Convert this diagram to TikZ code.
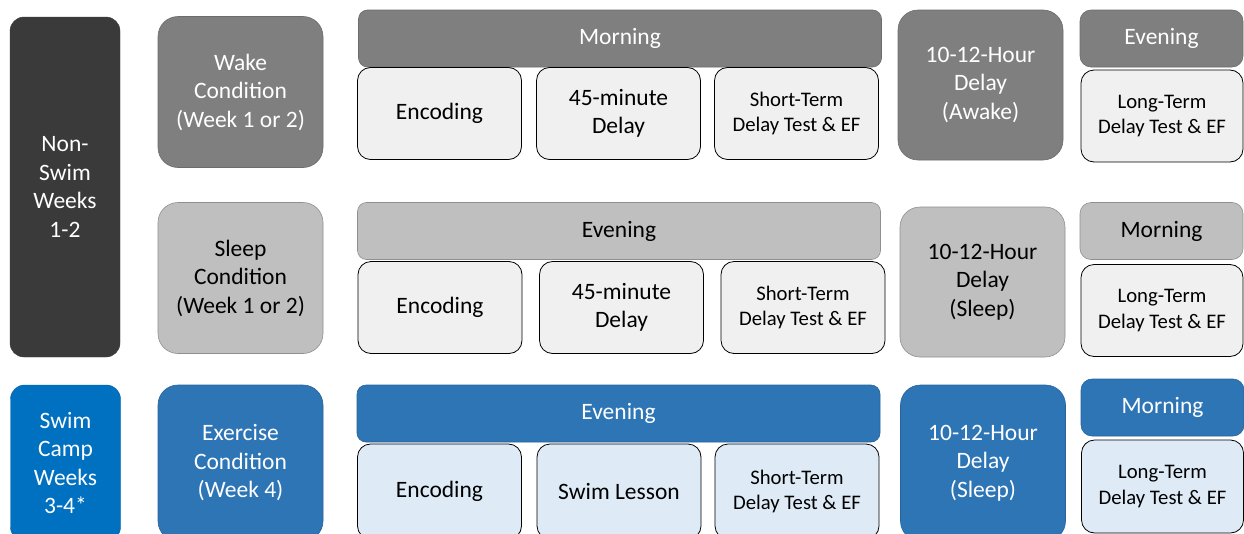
\documentclass[tikz,border=0pt]{standalone}
\usepackage{fontspec}
\setmainfont{Carlito}

\definecolor{darkgray}{HTML}{3A3A3A}
\definecolor{midgray}{HTML}{7F7F7F}
\definecolor{lightgray}{HTML}{BFBFBF}
\definecolor{palegray}{HTML}{F0F0F0}
\definecolor{swimblue}{HTML}{0070C0}
\definecolor{midblue}{HTML}{2E75B6}
\definecolor{paleblue}{HTML}{DEEBF7}

\begin{document}
\begin{tikzpicture}[x=1pt, y=-1pt]

    % --- Styles ---
    \tikzset{
        % Basis-Stil
        component/.style={
            rectangle,
            inner sep=0pt,
            align=center,
            font=\fontsize{23.5}{28.5}\selectfont
        },
        solid gray/.style={component, fill=midgray, draw=midgray!85!black, line width=0.6pt, text=white},
        solid light/.style={component, fill=lightgray, draw=lightgray!75!black, line width=0.6pt, text=black},
        solid blue/.style={component, fill=midblue, draw=midblue!85!black, line width=0.6pt, text=white},
        pale gray/.style={component, fill=palegray, draw=black, line width=0.8pt, text=black},
        pale blue/.style={component, fill=paleblue, draw=black, line width=0.8pt, text=black},
        % Groessen
        weekbox/.style={minimum width=110, rounded corners=14pt},
        condbox/.style={minimum width=165, minimum height=151, rounded corners=20pt},
        barbox/.style={minimum width=523, minimum height=57, rounded corners=9pt},
        stepbox/.style={minimum width=164, minimum height=92, rounded corners=13pt},
        delaybox/.style={minimum width=165, minimum height=150, rounded corners=20pt},
        timebox/.style={minimum width=163, minimum height=57, rounded corners=11pt},
        testbox/.style={minimum width=162, minimum height=92, rounded corners=13pt},
        smalltext/.style={font=\fontsize{20.7}{25.5}\selectfont}
    }

    \clip (0,0) rectangle (1244,533);
    \useasboundingbox (0,0) rectangle (1244,533);

    % --- Wochen ---
    \node[component, weekbox, minimum height=340, fill=darkgray, draw=darkgray, text=white]
        (nonswim) at (65,187) {Non-\\Swim\\Weeks\\1-2};
    \node[component, weekbox, minimum height=156, fill=swimblue, draw=swimblue!85!black, text=white]
        (swimcamp) at (65.5,463) {Swim\\Camp\\Weeks\\3-4*};

    % --- 1. Wake Condition ---
    \node[solid gray, condbox] (wake) at (240.5,92) {Wake\\Condition\\(Week 1 or 2)};
    \node[solid gray, barbox] (morningA) at (620,38.5) {Morning};
    \node[pale gray, stepbox] (encA) at (439.5,113.5) {Encoding};
    \node[pale gray, stepbox] (delayA) at (618.5,113.5) {45-minute\\Delay};
    \node[pale gray, stepbox, smalltext] (shortA) at (796.5,113.5) {Short-Term\\Delay Test \& EF};
    \node[solid gray, delaybox] (longdelayA) at (980.5,85) {10-12-Hour\\Delay\\(Awake)};
    \node[solid gray, timebox] (eveningA) at (1161.5,38.5) {Evening};
    \node[pale gray, testbox, smalltext] (longA) at (1162,116) {Long-Term\\Delay Test \& EF};

    % --- 2. Sleep Condition ---
    \node[solid light, condbox] (sleep) at (240.5,278) {Sleep\\Condition\\(Week 1 or 2)};
    \node[solid light, barbox] (eveningB) at (619,231) {Evening};
    \node[pale gray, stepbox] (encB) at (440,307.5) {Encoding};
    \node[pale gray, stepbox] (delayB) at (621.5,307.5) {45-minute\\Delay};
    \node[pale gray, stepbox, smalltext] (shortB) at (803,307.5) {Short-Term\\Delay Test \& EF};
    \node[solid light, delaybox] (longdelayB) at (982.5,282) {10-12-Hour\\Delay\\(Sleep)};
    \node[solid light, timebox] (morningB) at (1161.5,231) {Morning};
    \node[pale gray, testbox, smalltext] (longB) at (1162,310.5) {Long-Term\\Delay Test \& EF};

    % --- 3. Exercise Condition ---
    \node[solid blue, condbox, minimum height=156] (exercise) at (240.5,463) {Exercise\\Condition\\(Week 4)};
    \node[solid blue, barbox] (eveningC) at (618.5,413.5) {Evening};
    \node[pale blue, stepbox, minimum height=95] (encC) at (439.5,491.5) {Encoding};
    \node[pale blue, stepbox, minimum height=95] (lesson) at (619,491.5) {Swim Lesson};
    \node[pale blue, stepbox, minimum height=95, smalltext] (shortC) at (797,491.5) {Short-Term\\Delay Test \& EF};
    \node[solid blue, delaybox, minimum height=156] (longdelayC) at (983,463) {10-12-Hour\\Delay\\(Sleep)};
    \node[solid blue, timebox] (morningC) at (1162.5,407.5) {Morning};
    \node[pale blue, testbox, minimum height=93, smalltext] (longC) at (1162.5,486.5) {Long-Term\\Delay Test \& EF};

\end{tikzpicture}
\end{document}
